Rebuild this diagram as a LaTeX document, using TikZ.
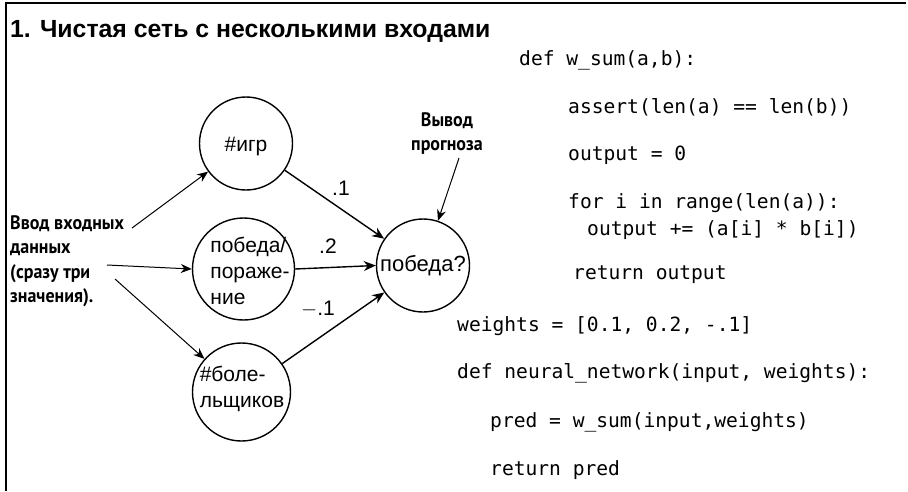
\documentclass[tikz,border=0pt]{standalone}
\usepackage{fontspec}
\setmainfont{Liberation Sans}
\newfontfamily\condb{PT Sans}[FakeStretch=0.92]
\newfontfamily\code{DejaVu Sans Mono}
\usetikzlibrary{arrows.meta}
\begin{document}
\begin{tikzpicture}[x=1pt,y=-1pt,
  neuron/.style={draw, circle, line width=1.4pt, inner sep=0pt},
  ntext/.style={font=\fontsize{21}{26}\selectfont, align=left, inner sep=0pt},
  wlabel/.style={font=\fontsize{21}{26}\selectfont, inner sep=0pt},
  inarrow/.style={line width=1pt, -{Stealth[length=11pt,width=9pt]}},
  warrow/.style={line width=1.4pt, -{Stealth[length=12pt,width=10pt]}},
  callout/.style={font=\condb\bfseries\fontsize{19.5}{24.5}\selectfont, align=left, inner sep=0pt},
  codeline/.style={font=\code\fontsize{19.6}{24}\selectfont, anchor=base west, inner sep=0pt}]
\useasboundingbox (0,0) rectangle (908,491);
% frame
\draw[line width=2pt] (906,3) -- (6,3) -- (6,491);
% title
\node[anchor=base west, inner sep=0pt, font=\bfseries\fontsize{24.8}{28}\selectfont] (title) at (10,37) {1. Чистая сеть с несколькими входами};
% neurons
\node[neuron, minimum size=93pt] (igr) at (246,143.5) {};
\node[neuron, minimum size=102pt] (pob) at (243.5,269) {};
\node[neuron, minimum size=98pt] (bol) at (241.5,392) {};
\node[neuron, minimum size=93pt] (out) at (423,265.5) {};
\node[ntext] (igrt) at (246,146) {\#игр};
\node[ntext] (pobt) at (250,271) {победа/\\пораже-\\ние};
\node[ntext] (bolt) at (242,389) {\#боле-\\льщиков};
\node[ntext, font=\fontsize{22}{26}\selectfont] (outt) at (423,266) {победа?};
% input callout
\node[callout, anchor=north west] (inp) at (10,215) {Ввод входных\\данных\\(сразу три\\значения).};
\coordinate (i1) at (132,228);
\coordinate (i2) at (107,265);
\coordinate (i3) at (115,279);
\draw[inarrow] (i1) -- (igr);
\draw[inarrow] (i2) -- (pob.west);
\draw[inarrow] (i3) -- (bol);
% weighted connections
\draw[warrow] (igr) -- (out);
\draw[warrow] (pob.east) -- (out.west);
\draw[warrow] (bol) -- (out);
\node[wlabel] (w1) at (341,188) {.1};
\node[wlabel] (w2) at (328,246) {.2};
\node[wlabel] (w3) at (318,309) {$-$.1};
% output callout
\node[callout, align=center, anchor=north] (outl) at (447,112) {Вывод\\прогноза};
\coordinate (o1) at (459,158);
\draw[inarrow] (o1) -- (out);
% code
\node[codeline] (c1) at (519,65) {def w\_sum(a,b):};
\node[codeline] (c2) at (568,113) {assert(len(a) == len(b))};
\node[codeline] (c3) at (568,160) {output = 0};
\node[codeline] (c4) at (568,208) {for i in range(len(a)):};
\node[codeline] (c5) at (587,235) {output += (a[i] * b[i])};
\node[codeline] (c6) at (573,279) {return output};
\node[codeline] (c7) at (457,331) {weights = [0.1, 0.2, -.1]};
\node[codeline] (c8) at (457,378) {def neural\_network(input, weights):};
\node[codeline] (c9) at (490,427) {pred = w\_sum(input,weights)};
\node[codeline] (c10) at (490,475) {return pred};
\end{tikzpicture}
\end{document}
